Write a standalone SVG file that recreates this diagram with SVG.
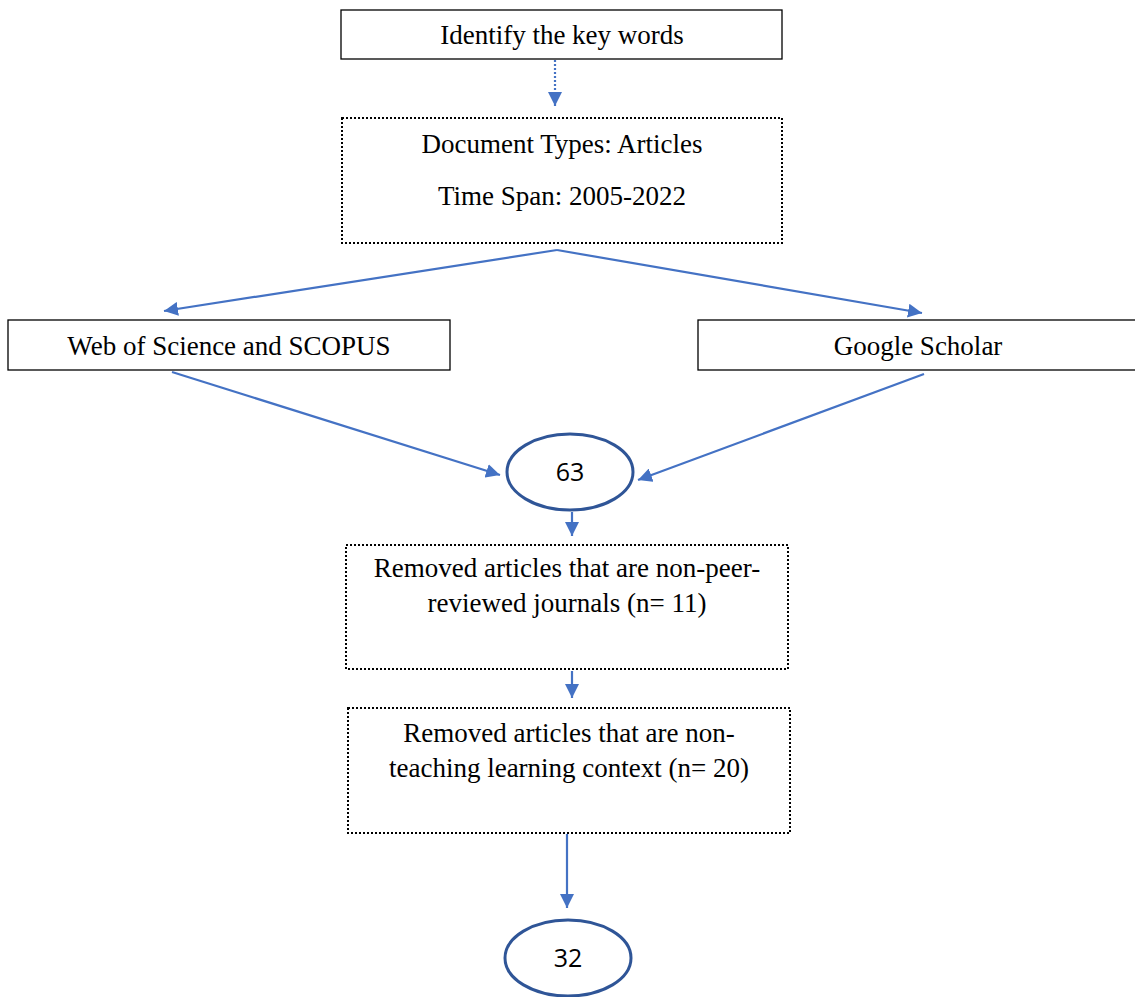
<svg xmlns="http://www.w3.org/2000/svg" width="1135" height="997" viewBox="0 0 1135 997">
  <style>
    .box { fill: #ffffff; stroke: #000000; stroke-width: 1.3; }
    .dotbox { fill: #ffffff; stroke: #000000; stroke-width: 2; stroke-dasharray: 2 2; }
    .oval { fill: #ffffff; stroke: #2F5597; stroke-width: 3; }
    .lbl { font-family: "Liberation Serif", "Times New Roman", serif; font-size: 27px; fill: #000000; text-anchor: middle; }
    .num { font-family: "Open Sans", "Noto Sans", sans-serif; font-size: 25px; fill: #000000; text-anchor: middle; }
    .link { fill: none; stroke: #4472C4; stroke-width: 2.2; marker-end: url(#arrow); }
    .dotlink { fill: none; stroke: #4472C4; stroke-width: 2.2; stroke-dasharray: 2 2; marker-end: url(#arrow); }
  </style>
  <defs>
    <marker id="arrow" markerUnits="userSpaceOnUse" markerWidth="14" markerHeight="14" viewBox="0 0 14 14" refX="14" refY="7" orient="auto">
      <path d="M0,0 L14,7 L0,14 Z" fill="#4472C4"/>
    </marker>
  </defs>

  <g id="connectors">
    <line class="dotlink" x1="555" y1="60" x2="555" y2="106"/>
    <line class="link" x1="557" y1="250" x2="164" y2="311"/>
    <line class="link" x1="557" y1="250" x2="922" y2="313"/>
    <line class="link" x1="172" y1="372" x2="500" y2="475"/>
    <line class="link" x1="924" y1="374" x2="638" y2="480"/>
    <line class="link" x1="572" y1="512" x2="572" y2="536"/>
    <line class="link" x1="572" y1="671" x2="572" y2="698"/>
    <line class="link" x1="567" y1="834" x2="567" y2="908"/>
  </g>

  <g id="keywords">
    <rect class="box" x="341" y="10" width="441" height="49"/>
    <text class="lbl" x="562" y="44">Identify the key words</text>
  </g>

  <g id="filters">
    <rect class="dotbox" x="342" y="118" width="440" height="125"/>
    <text class="lbl" x="562" y="153">Document Types: Articles</text>
    <text class="lbl" x="562" y="205">Time Span: 2005-2022</text>
  </g>

  <g id="wos-scopus">
    <rect class="box" x="8" y="320" width="442" height="50"/>
    <text class="lbl" x="229" y="355">Web of Science and SCOPUS</text>
  </g>

  <g id="google-scholar">
    <rect class="box" x="698" y="320" width="440" height="50"/>
    <text class="lbl" x="918" y="355">Google Scholar</text>
  </g>

  <g id="total-63">
    <ellipse class="oval" cx="570" cy="472" rx="63" ry="38"/>
    <text class="num" x="570" y="481">63</text>
  </g>

  <g id="removed-non-peer">
    <rect class="dotbox" x="346" y="545" width="442" height="124"/>
    <text class="lbl" x="567" y="577">Removed articles that are non-peer-</text>
    <text class="lbl" x="567" y="612">reviewed journals (n= 11)</text>
  </g>

  <g id="removed-non-teaching">
    <rect class="dotbox" x="348" y="708" width="442" height="125"/>
    <text class="lbl" x="569" y="742">Removed articles that are non-</text>
    <text class="lbl" x="569" y="777">teaching learning context (n= 20)</text>
  </g>

  <g id="final-32">
    <ellipse class="oval" cx="568" cy="958" rx="63" ry="38"/>
    <text class="num" x="568" y="967">32</text>
  </g>
</svg>
